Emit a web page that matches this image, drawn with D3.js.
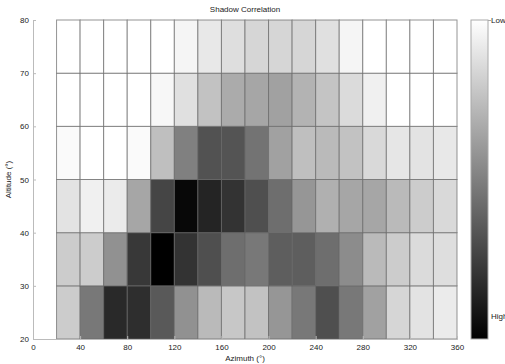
<!DOCTYPE html>
<html>
<head>
<meta charset="utf-8">
<script src="https://cdn.jsdelivr.net/npm/d3@7"></script>
<style>
  body { margin: 0; background: #fff; }
  svg text { font-family: "Liberation Sans", Arial, sans-serif; fill: #222; }
</style>
</head>
<body>
<svg id="chart" width="505" height="364"></svg>
<script>
// azimuth bins (start of each 20 deg cell) and altitude bins (start of each 10 deg cell)
const azimuths = [20, 40, 60, 80, 100, 120, 140, 160, 180, 200, 220, 240, 260, 280, 300, 320, 340];
const altitudes = [20, 30, 40, 50, 60, 70];
const xTicks = [0, 40, 80, 120, 160, 200, 240, 280, 320, 360];
const yTicks = [20, 30, 40, 50, 60, 70, 80];

// correlation per altitude row (0 = low / white, 1 = high / black)
const alt20 = [0.20, 0.53, 0.84, 0.82, 0.65, 0.43, 0.27, 0.22, 0.24, 0.41, 0.53, 0.69, 0.53, 0.37, 0.16, 0.11, 0.08];
const alt30 = [0.20, 0.20, 0.43, 0.78, 1.00, 0.80, 0.69, 0.57, 0.53, 0.63, 0.63, 0.57, 0.45, 0.27, 0.20, 0.14, 0.13];
const alt40 = [0.11, 0.06, 0.08, 0.35, 0.73, 0.97, 0.86, 0.80, 0.69, 0.57, 0.41, 0.31, 0.35, 0.35, 0.27, 0.20, 0.15];
const alt50 = [0.02, 0.00, 0.00, 0.02, 0.25, 0.50, 0.68, 0.67, 0.55, 0.37, 0.25, 0.27, 0.24, 0.15, 0.10, 0.11, 0.09];
const alt60 = [0.00, 0.00, 0.00, 0.00, 0.03, 0.12, 0.24, 0.33, 0.35, 0.37, 0.30, 0.23, 0.14, 0.06, 0.00, 0.00, 0.00];
const alt70 = [0.00, 0.00, 0.00, 0.00, 0.00, 0.04, 0.09, 0.13, 0.16, 0.16, 0.16, 0.12, 0.04, 0.00, 0.00, 0.00, 0.00];
const rows = [alt20, alt30, alt40, alt50, alt60, alt70];

const svg = d3.select('#chart');
const margin = { left: 33, top: 20, right: 48, bottom: 25 };
const W = 505, H = 364;
const pw = W - margin.left - margin.right;   // 424
const ph = H - margin.top - margin.bottom;   // 319

const x = d3.scaleLinear().domain([0, 360]).range([margin.left, margin.left + pw]);
const y = d3.scaleLinear().domain([20, 80]).range([margin.top + ph, margin.top]);
const color = d3.scaleLinear().domain([0, 1]).range(['#ffffff', '#000000']);

const cells = [];
rows.forEach((row, i) => {
  row.forEach((v, j) => {
    cells.push({ az: azimuths[j], alt: altitudes[i], v: v });
  });
});

svg.append('g').selectAll('rect')
  .data(cells)
  .enter().append('rect')
  .attr('x', d => x(d.az))
  .attr('y', d => y(d.alt + 10))
  .attr('width', d => x(d.az + 20) - x(d.az))
  .attr('height', d => y(d.alt) - y(d.alt + 10))
  .attr('fill', d => color(d.v))
  .attr('stroke', '#666')
  .attr('stroke-opacity', 0.7)
  .attr('stroke-width', 1);

// axes, MATLAB style: light axis lines, inward ticks
const xAxis = d3.axisBottom(x).tickValues(xTicks).tickSize(-3).tickPadding(5);
const gx = svg.append('g')
  .attr('transform', 'translate(0,' + (margin.top + ph) + ')')
  .call(xAxis);
const yAxis = d3.axisLeft(y).tickValues(yTicks).tickSize(-3).tickPadding(4);
const gy = svg.append('g')
  .attr('transform', 'translate(' + margin.left + ',0)')
  .call(yAxis);
[gx, gy].forEach(g => {
  g.select('.domain').attr('stroke', '#bbb');
  g.selectAll('.tick line').attr('stroke', '#bbb');
  g.selectAll('.tick text').style('font-size', '8px').style('fill', '#222');
});

// labels
svg.append('text')
  .attr('x', margin.left + pw / 2)
  .attr('y', 12)
  .attr('text-anchor', 'middle')
  .style('font-size', '8px')
  .style('fill', '#222')
  .text('Shadow Correlation');
svg.append('text')
  .attr('x', margin.left + pw / 2)
  .attr('y', 361)
  .attr('text-anchor', 'middle')
  .style('font-size', '8px')
  .style('fill', '#222')
  .text('Azimuth (°)');
svg.append('text')
  .attr('transform', 'translate(11,' + (margin.top + ph / 2) + ') rotate(-90)')
  .attr('text-anchor', 'middle')
  .style('font-size', '8px')
  .style('fill', '#222')
  .text('Altitude (°)');

// colour bar
const defs = svg.append('defs');
const grad = defs.append('linearGradient')
  .attr('id', 'cbar')
  .attr('x1', 0).attr('y1', 0).attr('x2', 0).attr('y2', 1);
grad.append('stop').attr('offset', '0%').attr('stop-color', color(0));
grad.append('stop').attr('offset', '100%').attr('stop-color', color(1));

const cbX = 471, cbW = 17;
svg.append('rect')
  .attr('x', cbX)
  .attr('y', margin.top)
  .attr('width', cbW)
  .attr('height', ph)
  .attr('fill', 'url(#cbar)')
  .attr('stroke', '#aaa')
  .attr('stroke-width', 1);

svg.append('line')
  .attr('x1', cbX + cbW).attr('x2', cbX + cbW + 3)
  .attr('y1', margin.top + 0.5).attr('y2', margin.top + 0.5)
  .attr('stroke', '#aaa');
svg.append('text')
  .attr('x', cbX + cbW + 3)
  .attr('y', margin.top + 3)
  .style('font-size', '8px')
  .style('fill', '#222')
  .text('Low');
svg.append('text')
  .attr('x', cbX + cbW + 3)
  .attr('y', 319)
  .style('font-size', '8px')
  .style('fill', '#222')
  .text('High');
</script>
</body>
</html>
